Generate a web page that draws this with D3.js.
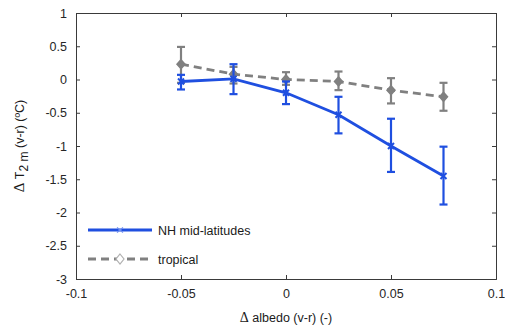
<!DOCTYPE html>
<html>
<head>
<meta charset="utf-8">
<script src="https://cdn.jsdelivr.net/npm/d3@7"></script>
<style>
  body { margin: 0; background: #fff; }
  text { font-family: "Liberation Sans", Arial, sans-serif; }
</style>
</head>
<body>
<div id="chart"></div>
<script>
var albedo = [-0.05, -0.025, 0, 0.025, 0.05, 0.075];

var midLat = [-0.03, 0.01, -0.2, -0.53, -1.0, -1.45];
var midLatLo = [-0.15, -0.22, -0.37, -0.81, -1.39, -1.88];
var midLatHi = [0.07, 0.23, -0.03, -0.26, -0.59, -1.01];

var tropical = [0.23, 0.08, 0.0, -0.03, -0.16, -0.26];
var tropLo = [-0.05, -0.06, -0.08, -0.16, -0.36, -0.47];
var tropHi = [0.49, 0.19, 0.11, 0.12, 0.02, -0.05];

var xTicks = [-0.1, -0.05, 0, 0.05, 0.1];
var yTicks = [1, 0.5, 0, -0.5, -1, -1.5, -2, -2.5, -3];

var svgWidth = 505;
var svgHeight = 332;
var margin = {top: 13, right: 9, bottom: 53, left: 76};
var width = svgWidth - margin.left - margin.right;
var height = svgHeight - margin.top - margin.bottom;

var svg = d3.select("#chart")
  .append("svg")
  .attr("width", svgWidth)
  .attr("height", svgHeight);

var chartGroup = svg.append("g")
  .attr("transform", `translate(${margin.left}, ${margin.top})`);

var x = d3.scaleLinear().domain([-0.1, 0.1]).range([0, width]);
var y = d3.scaleLinear().domain([-3, 1]).range([height, 0]);

var axisColor = "#3a3a3a";
var tickFmt = function(d) { return d3.format("")(d).replace("−", "-"); };

// axes with inward ticks
var bottomAxis = d3.axisBottom(x).tickValues(xTicks).tickSize(-4).tickPadding(10).tickFormat(tickFmt);
var leftAxis = d3.axisLeft(y).tickValues(yTicks).tickSize(-4).tickPadding(9).tickFormat(tickFmt);
var topAxis = d3.axisTop(x).tickValues(xTicks).tickSize(-4).tickFormat("");
var rightAxis = d3.axisRight(y).tickValues(yTicks).tickSize(-4).tickFormat("");

function styleAxis(g) {
  g.select(".domain").attr("stroke", axisColor);
  g.selectAll(".tick line").attr("stroke", axisColor);
  g.selectAll(".tick text").attr("fill", "#262626").attr("font-size", 12.5)
    .attr("font-family", "'Liberation Sans', Arial, sans-serif");
}

chartGroup.append("g").attr("transform", `translate(0, ${height})`).call(bottomAxis).call(styleAxis);
chartGroup.append("g").call(leftAxis).call(styleAxis);
chartGroup.append("g").call(topAxis).call(styleAxis);
chartGroup.append("g").attr("transform", `translate(${width}, 0)`).call(rightAxis).call(styleAxis);

var blue = "#1f4fe0";
var grey = "#808080";

function drawSeries(vals, lo, hi, color, dash, marker) {
  var pts = albedo.map(function(a, i) { return {x: a, y: vals[i], lo: lo[i], hi: hi[i]}; });

  var line = d3.line().x(d => x(d.x)).y(d => y(d.y));
  chartGroup.append("path")
    .datum(pts)
    .attr("d", line)
    .attr("fill", "none")
    .attr("stroke", color)
    .attr("stroke-width", 2.8)
    .attr("stroke-dasharray", dash);

  var eb = chartGroup.selectAll(null).data(pts).enter().append("g").attr("stroke", color).attr("stroke-width", 2.2);
  eb.append("line")
    .attr("x1", d => x(d.x)).attr("x2", d => x(d.x))
    .attr("y1", d => y(d.lo)).attr("y2", d => y(d.hi));
  eb.append("line")
    .attr("x1", d => x(d.x) - 4).attr("x2", d => x(d.x) + 4)
    .attr("y1", d => y(d.lo)).attr("y2", d => y(d.lo));
  eb.append("line")
    .attr("x1", d => x(d.x) - 4).attr("x2", d => x(d.x) + 4)
    .attr("y1", d => y(d.hi)).attr("y2", d => y(d.hi));

  if (marker === "x") {
    chartGroup.selectAll(null).data(pts).enter().append("path")
      .attr("transform", d => `translate(${x(d.x)}, ${y(d.y)})`)
      .attr("d", "M-3,-3L3,3M-3,3L3,-3")
      .attr("stroke", color).attr("stroke-width", 2);
  } else {
    chartGroup.selectAll(null).data(pts).enter().append("path")
      .attr("transform", d => `translate(${x(d.x)}, ${y(d.y)})`)
      .attr("d", "M0,-4.5L4,0L0,4.5L-4,0Z")
      .attr("fill", color).attr("stroke", color).attr("stroke-width", 1.5);
  }
}

drawSeries(tropical, tropLo, tropHi, grey, "8,5", "d");
drawSeries(midLat, midLatLo, midLatHi, blue, null, "x");

// legend
var legend = svg.append("g").attr("transform", "translate(88, 230)");
legend.append("line").attr("x1", 0).attr("x2", 64).attr("y1", 0).attr("y2", 0)
  .attr("stroke", blue).attr("stroke-width", 2.8);
legend.append("path").attr("d", "M29,-2.5L35,2.5M29,2.5L35,-2.5")
  .attr("stroke", "#6f8ff0").attr("stroke-width", 1.2);
legend.append("text").attr("x", 70).attr("y", 4.5).attr("font-size", 12.5).attr("fill", "#1a1a1a")
  .text("NH mid-latitudes");

legend.append("line").attr("x1", 0).attr("x2", 64).attr("y1", 29).attr("y2", 29)
  .attr("stroke", grey).attr("stroke-width", 2.8).attr("stroke-dasharray", "8,5");
legend.append("path").attr("d", "M32,24L36,29L32,34L28,29Z")
  .attr("fill", "#fff").attr("stroke", "#b0b0b0").attr("stroke-width", 1.2);
legend.append("text").attr("x", 70).attr("y", 33.5).attr("font-size", 12.5).attr("fill", "#1a1a1a")
  .text("tropical");

// axis labels
var xl = svg.append("text")
  .attr("transform", `translate(${margin.left + x(0)}, 322)`)
  .attr("text-anchor", "middle")
  .attr("font-size", 12.5)
  .attr("fill", "#1a1a1a");
xl.append("tspan").attr("font-family", "'Liberation Serif', serif").attr("font-size", 14).text("Δ");
xl.append("tspan").text(" albedo (v-r) (-)");

var yl = svg.append("text")
  .attr("transform", `translate(24, ${margin.top + height / 2}) rotate(-90)`)
  .attr("text-anchor", "middle")
  .attr("font-size", 12.5)
  .attr("fill", "#1a1a1a");
yl.append("tspan").attr("font-family", "'Liberation Serif', serif").attr("font-size", 15).text("Δ");
yl.append("tspan").text(" T");
yl.append("tspan").attr("dy", 4).attr("font-size", 12).text("2 m");
yl.append("tspan").attr("dy", -4).text(" (v-r) (ºC)");
</script>
</body>
</html>
